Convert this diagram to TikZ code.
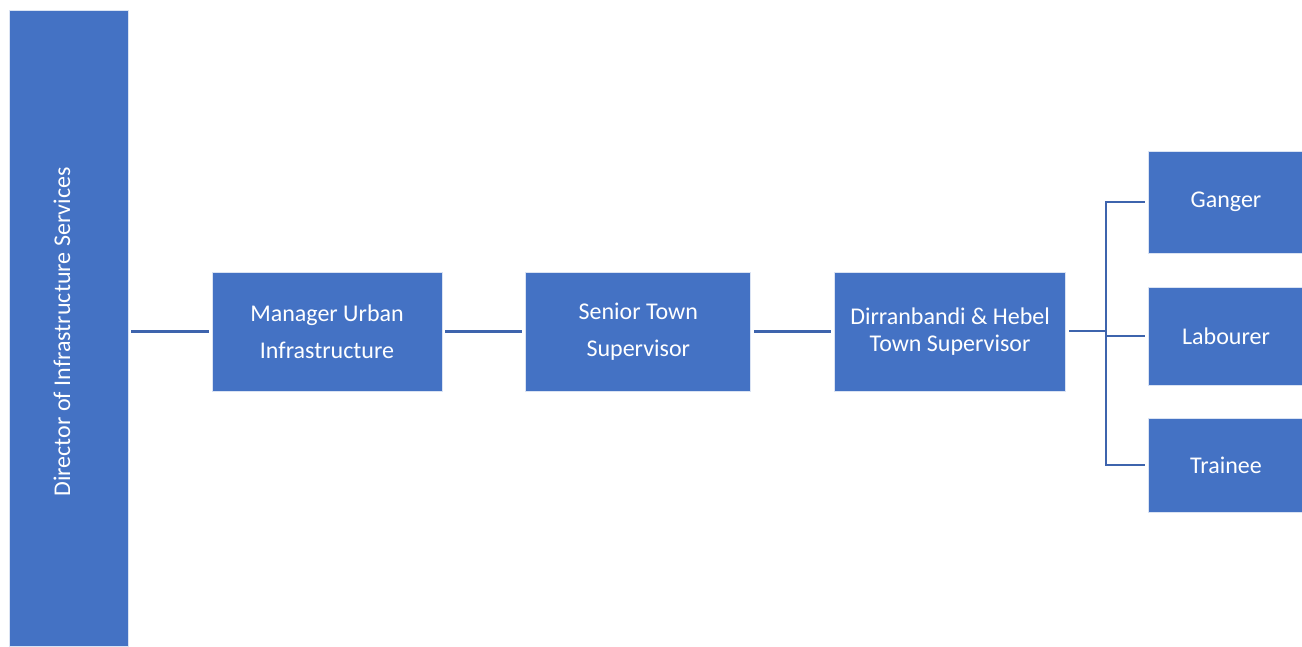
\documentclass[tikz,border=0pt]{standalone}
\usepackage{fontspec}
\setmainfont{Carlito}
\usepackage{xcolor}
\usetikzlibrary{positioning}
\definecolor{boxblue}{HTML}{4472C4}
\definecolor{linkblue}{HTML}{3E64AD}

\begin{document}
\begin{tikzpicture}[x=1pt, y=-1pt, node distance=83pt, auto,
        orgbox/.style={fill=boxblue, draw=white!80!boxblue, line width=0.8pt, text=white, align=center, inner sep=0pt, font=\fontsize{24}{37}\selectfont},
        link/.style={draw=linkblue, line width=2.5pt, shorten <=3pt, shorten >=3pt}]
            \useasboundingbox (0,0) rectangle (1302,646);
            \node[orgbox, minimum width=119pt, minimum height=636pt] (director) at (68.5,328) {};
            \node[rotate=90, text=white, font=\fontsize{24}{29}\selectfont] (director_text) at (62,332) {Director of Infrastructure Services};
            \node[orgbox, minimum width=230pt, minimum height=119pt] (manager) at (327,331.5) {Manager Urban \\ Infrastructure};
            \node[orgbox, minimum width=225pt, minimum height=119pt] (senior) [right=of manager] {Senior Town \\ Supervisor};
            \node[orgbox, minimum width=231pt, minimum height=119pt, font=\fontsize{24}{27}\selectfont] (town) [right=of senior] {Dirranbandi \& Hebel \\ Town Supervisor};
            \node[orgbox, minimum width=156pt, minimum height=102pt] (ganger) at (1226,202) {Ganger};
            \node[orgbox, minimum width=156pt, minimum height=98pt] (labourer) at (1226,336) {Labourer};
            \node[orgbox, minimum width=156pt, minimum height=94pt] (trainee) at (1226,465) {Trainee};
            \coordinate (fork) at (1106,331);
            \draw[link] (director.east |- manager) -- (manager);
            \draw[link] (manager) -- (senior);
            \draw[link] (senior) -- (town);
            \draw[link, shorten >=0pt] (town.east |- fork) -- (fork);
            \draw[link, shorten <=0pt] (fork) |- (ganger.west);
            \draw[link, shorten <=0pt] (fork) |- (labourer.west);
            \draw[link, shorten <=0pt] (fork) |- (trainee.west);
        \end{tikzpicture}
\end{document}
